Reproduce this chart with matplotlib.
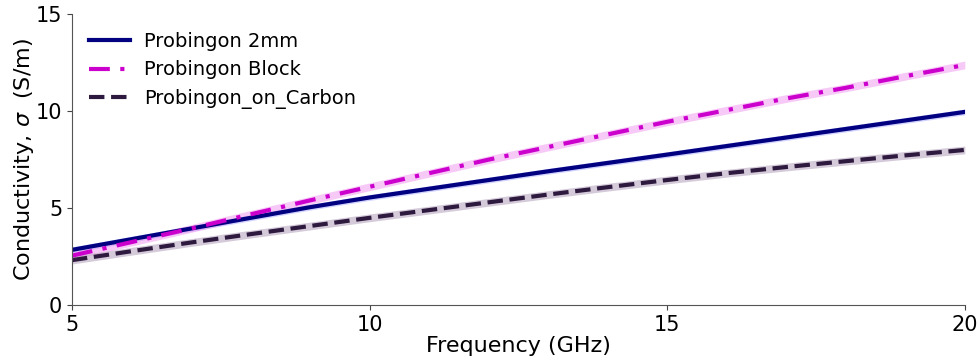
import matplotlib
matplotlib.use("Agg")
import matplotlib.pyplot as plt
import numpy as np

# Frequency (GHz) and conductivity (S/m)
freq = [5, 6, 7, 8, 9, 10, 11, 12, 13, 14, 15, 16, 17, 18, 19, 20]
sigma_2mm = [2.85, 3.4, 3.95, 4.5, 5.05, 5.55, 6.0, 6.45, 6.9, 7.33,
             7.76, 8.2, 8.64, 9.08, 9.52, 9.96]
sigma_block = [2.55, 3.25, 3.95, 4.68, 5.4, 6.1, 6.8, 7.5, 8.15, 8.8,
               9.45, 10.05, 10.65, 11.2, 11.8, 12.38]
sigma_carbon = [2.32, 2.78, 3.23, 3.66, 4.08, 4.5, 4.9, 5.3, 5.7, 6.08,
                6.45, 6.8, 7.12, 7.42, 7.72, 8.0]
# half-width of the shaded spread
spread_2mm = 0.15
spread_block = 0.2
spread_carbon = 0.2

freq = np.array(freq)
s1, s2, s3 = np.array(sigma_2mm), np.array(sigma_block), np.array(sigma_carbon)

fig = plt.figure(figsize=(9.79, 3.62), dpi=100)
ax = fig.add_axes([0.0735, 0.157, 0.912, 0.804])

ax.fill_between(freq, s1 - spread_2mm, s1 + spread_2mm, color="#8080ff", alpha=0.35, lw=0)
ax.fill_between(freq, s2 - spread_block, s2 + spread_block, color="#ee88ee", alpha=0.45, lw=0)
ax.fill_between(freq, s3 - spread_carbon, s3 + spread_carbon, color="#b8a8c0", alpha=0.6, lw=0)

ax.plot(freq, s1, color="#000080", lw=3, ls="-", label="Probingon 2mm")
ax.plot(freq, s2, color="#cc00cc", lw=3, ls=(0, (5, 2.5, 1, 2.5)), label="Probingon Block")
ax.plot(freq, s3, color="#2e1a3e", lw=3, ls="--", label="Probingon_on_Carbon")

ax.set_xlim(5, 20)
ax.set_ylim(0, 15)
ax.set_xticks([5, 10, 15, 20])
ax.set_yticks([0, 5, 10, 15])
ax.tick_params(labelsize=15, color="#444444")
ax.set_xlabel("Frequency (GHz)", fontsize=16, labelpad=1)
ax.set_ylabel(r"Conductivity, $\sigma$  (S/m)", fontsize=16, labelpad=0)
for side in ["top", "right"]:
    ax.spines[side].set_visible(False)
for side in ["left", "bottom"]:
    ax.spines[side].set_color("#555555")

ax.legend(loc="upper left", frameon=False, fontsize=14, handlelength=2.1,
          handletextpad=0.7, bbox_to_anchor=(0.0, 1.0))

fig.savefig("out.png", dpi=100)
